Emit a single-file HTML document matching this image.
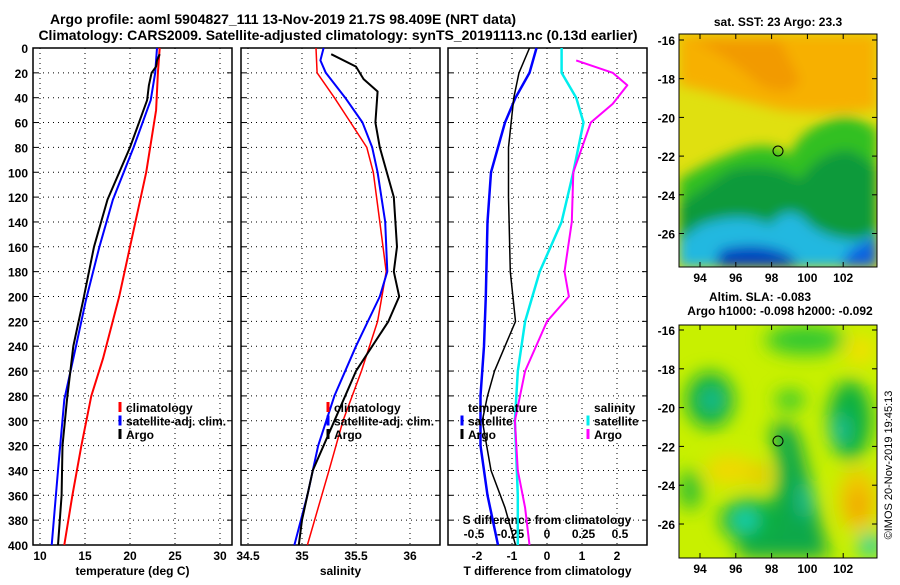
<!DOCTYPE html>
<html><head><meta charset="utf-8"><style>
body{margin:0;background:#fff;width:900px;height:580px;overflow:hidden}
svg text{font-family:"Liberation Sans",sans-serif;font-weight:bold;fill:#000}
</style></head><body>
<svg id="c" width="900" height="580" xmlns="http://www.w3.org/2000/svg">
<defs>
<filter id="bl" x="-20%" y="-20%" width="140%" height="140%"><feGaussianBlur stdDeviation="6"/></filter>
<filter id="bl2" x="-20%" y="-20%" width="140%" height="140%"><feGaussianBlur stdDeviation="9"/></filter>
<clipPath id="m1"><rect x="679" y="34" width="198" height="233"/></clipPath>
<clipPath id="m2"><rect x="679" y="325" width="198" height="233"/></clipPath>
</defs>
<text x="283" y="24" font-size="14" text-anchor="middle">Argo profile: aoml 5904827_111 13-Nov-2019 21.7S 98.409E (NRT data)</text>
<text x="338" y="40" font-size="14" text-anchor="middle">Climatology: CARS2009. Satellite-adjusted climatology: synTS_20191113.nc (0.13d earlier)</text>
<g id="plots"></g>
<!-- SST map -->
<g clip-path="url(#m1)">
<rect x="679" y="34" width="198" height="233" fill="#e0e010"/>
<g filter="url(#bl)">
<path d="M679 34 H877 V110 Q820 115 780 110 Q740 100 700 90 L679 85Z" fill="#f7b000"/>
<path d="M690 40 Q720 50 760 85 Q790 100 800 80 L780 40Z" fill="#f29a00"/>
<path d="M679 180 Q700 165 740 150 Q770 140 790 155 Q800 130 830 120 Q850 110 877 130 V267 H679Z" fill="#30c020"/>
<path d="M679 205 Q700 190 730 170 Q770 160 800 180 Q820 150 850 150 Q870 160 877 170 V267 H679Z" fill="#119a3a"/>
<path d="M700 225 Q740 210 770 225 Q790 200 810 225 Q830 240 860 240 L877 232 V267 H679 V240Z" fill="#20b8e0"/>
<path d="M720 250 Q760 240 790 255 L800 267 H715Z" fill="#0040c0"/>
<path d="M850 250 Q870 240 877 235 V267 H840Z" fill="#1060e0"/>
</g>
</g>
<rect x="679" y="34" width="198" height="233" fill="none" stroke="#000"/>
<circle cx="778" cy="151" r="5" fill="none" stroke="#000"/>
<text x="778" y="26" font-size="12" text-anchor="middle">sat. SST: 23 Argo: 23.3</text>
<!-- SLA map -->
<g clip-path="url(#m2)">
<rect x="679" y="325" width="198" height="233" fill="#c8f000"/>
<g filter="url(#bl2)">
<ellipse cx="710" cy="400" rx="24" ry="28" fill="#10b040"/>
<ellipse cx="712" cy="400" rx="10" ry="10" fill="#20c0a0"/>
<ellipse cx="850" cy="420" rx="22" ry="40" fill="#10b040"/>
<ellipse cx="840" cy="430" rx="8" ry="15" fill="#20c0a0"/>
<path d="M770 430 Q790 410 800 440 Q810 480 820 520 L830 558 H740 Q730 520 760 510 Q790 500 770 430Z" fill="#10a848"/>
<ellipse cx="750" cy="520" rx="30" ry="22" fill="#10b040"/>
<ellipse cx="745" cy="520" rx="12" ry="10" fill="#20d8c0"/>
<ellipse cx="806" cy="500" rx="6" ry="18" fill="#20c0a0"/>
<ellipse cx="805" cy="340" rx="40" ry="15" fill="#30c830"/>
<ellipse cx="790" cy="400" rx="15" ry="10" fill="#30c830"/>
<ellipse cx="860" cy="350" rx="15" ry="15" fill="#f0e000"/>
<ellipse cx="730" cy="470" rx="25" ry="15" fill="#f0d800"/>
<ellipse cx="760" cy="475" rx="10" ry="10" fill="#f0c000"/>
<ellipse cx="858" cy="500" rx="20" ry="32" fill="#f0c800"/>
<ellipse cx="858" cy="505" rx="8" ry="16" fill="#f0a000"/>
<ellipse cx="690" cy="490" rx="12" ry="20" fill="#30c030"/>
<ellipse cx="870" cy="545" rx="12" ry="12" fill="#20d0b0"/>
</g>
</g>
<rect x="679" y="325" width="198" height="233" fill="none" stroke="#000"/>
<circle cx="778" cy="441" r="5" fill="none" stroke="#000"/>
<text x="760" y="301" font-size="12" text-anchor="middle">Altim. SLA: -0.083</text>
<text x="780" y="315" font-size="12" text-anchor="middle">Argo h1000: -0.098 h2000: -0.092</text>
<text transform="translate(892,465) rotate(-90)" font-size="11" font-weight="normal" text-anchor="middle" style="font-weight:normal">©IMOS 20-Nov-2019 19:45:13</text>
<g id="maps"></g>
</svg>
<script>
// ---- data ----
const depthTicks=[0,20,40,60,80,100,120,140,160,180,200,220,240,260,280,300,320,340,360,380,400];
const tClimD=[0,20,50,100,150,200,250,280,320,360,400];
const tClimV=[23.3,23.1,22.9,21.8,20.3,18.8,17.0,15.7,14.6,13.6,12.7];
const tSatD=[0,20,42,80,122,160,203,240,283,340,400];
const tSatV=[23.0,22.8,22.3,20.4,18.1,16.6,15.1,14.0,12.7,12.0,11.3];
const tArgoD=[5,10,15,20,30,42,80,122,160,203,240,283,320,360,400];
const tArgoV=[23.3,23.0,22.9,22.4,22.1,21.9,20.0,17.5,16.0,14.8,13.7,13.0,12.5,12.4,12.0];
const sClimD=[0,20,40,60,80,100,140,180,220,260,300,340,400];
const sClimV=[35.13,35.14,35.3,35.45,35.6,35.66,35.72,35.78,35.7,35.55,35.38,35.25,35.05];
const sSatD=[0,10,20,40,60,80,100,140,180,200,240,280,320,360,400];
const sSatV=[35.2,35.17,35.22,35.4,35.56,35.65,35.7,35.77,35.79,35.72,35.5,35.3,35.15,35.05,34.93];
const sArgoD=[5,15,25,35,60,80,120,160,180,200,220,260,300,340,380,400];
const sArgoV=[35.27,35.5,35.57,35.7,35.68,35.72,35.85,35.88,35.85,35.9,35.8,35.5,35.3,35.1,35.0,34.97];
const dtSatD=[0,20,40,60,80,100,140,200,240,280,320,360,400];
const dtSatV=[-0.3,-0.5,-0.9,-1.2,-1.4,-1.6,-1.7,-1.75,-1.8,-1.9,-1.9,-1.7,-1.4];
const dtArgoD=[0,20,40,80,120,180,220,240,260,280,300,340,370,400];
const dtArgoV=[-0.5,-0.8,-0.95,-1.1,-1.1,-1.05,-0.9,-1.2,-1.5,-1.7,-1.85,-1.6,-1.2,-0.9];
const dsSatD=[0,20,40,60,100,140,180,220,260,300,360,400];
const dsSatV=[0.1,0.1,0.2,0.25,0.18,0.1,-0.05,-0.15,-0.2,-0.22,-0.2,-0.2];
const dsArgoD=[10,20,30,45,60,100,140,180,200,220,260,300,340,370,400];
const dsArgoV=[0.2,0.45,0.55,0.45,0.3,0.18,0.17,0.12,0.15,0.0,-0.15,-0.22,-0.2,-0.15,-0.12];
const tTicks=[10,15,20,25,30], sTicks=[34.5,35,35.5,36], dtTicks=[-2,-1,0,1,2], dsTicks=[-0.5,-0.25,0,0.25,0.5];
const dsTickLabels=["-0.5","-0.25","0","0.25","0.5"];
const latTicks=[-16,-18,-20,-22,-24,-26], lonTicks=[94,96,98,100,102];
// ---- axes ----
const NS="http://www.w3.org/2000/svg";
const Y0=48,Y1=545;
const y=d=>Y0+d*(Y1-Y0)/400;
const xT=v=>40+(v-10)*9, xS=v=>302+(v-35)*108, xDT=v=>547+v*35, xDS=v=>547+v*146;
const g=document.getElementById('plots');
function el(t,a,p){const e=document.createElementNS(NS,t);for(const k in a)e.setAttribute(k,a[k]);(p||g).appendChild(e);return e;}
function txt(s,x,yy,anc,sz){const e=el('text',{x:x,y:yy,'text-anchor':anc||'middle','font-size':sz||12});e.textContent=s;return e;}
const panels=[{x0:33,x1:232,ticks:tTicks,f:xT,lab:tTicks.map(String),title:"temperature (deg C)",name:"temperature-panel"},
{x0:241,x1:440,ticks:sTicks,f:xS,lab:sTicks.map(String),title:"salinity",name:"salinity-panel"},
{x0:448,x1:647,ticks:dtTicks,f:xDT,lab:dtTicks.map(String),title:"T difference from climatology",name:"difference-panel"}];
panels.forEach((p,i)=>{
  const r=el('rect',{x:p.x0,y:Y0,width:p.x1-p.x0,height:Y1-Y0,fill:'none',stroke:'#000','stroke-width':1.5});
  
  
  depthTicks.forEach(d=>{if(d>0&&d<400){el('line',{x1:p.x0,x2:p.x1,y1:y(d),y2:y(d),stroke:'#000','stroke-dasharray':'1,4'});
    el('line',{x1:p.x0,x2:p.x0+5,y1:y(d),y2:y(d),stroke:'#000'});el('line',{x1:p.x1-5,x2:p.x1,y1:y(d),y2:y(d),stroke:'#000'});}});
  p.ticks.forEach((t,j)=>{const X=p.f(t);
    el('line',{x1:X,x2:X,y1:Y0,y2:Y1,stroke:'#000','stroke-dasharray':'1,4'});
    const tl=txt(p.lab[j],X,560,'middle',12);
    
    });
  const at=txt(p.title,(p.x0+p.x1)/2,575,'middle',12);
  
  
});
depthTicks.forEach(d=>{const t=txt(String(d),28,y(d)+5,'end',12);
  
  });
dsTicks.forEach((t,j)=>{const e=txt(dsTickLabels[j],xDS(t),538,'middle',12);
  
  });
const st=txt("S difference from climatology",547,524,'middle',12);


function line(D,V,f,col,w,name){
  const pts=D.map((d,i)=>f(V[i]).toFixed(1)+','+y(d).toFixed(1)).join(' ');
  const e=el('polyline',{points:pts,fill:'none',stroke:col,'stroke-width':w,'stroke-linejoin':'round'});
  
  }
line(tClimD,tClimV,xT,'#f00',2,'temp-climatology-line');
line(tSatD,tSatV,xT,'#00f',2,'temp-satellite-line');
line(tArgoD,tArgoV,xT,'#000',2,'temp-argo-line');
line(sClimD,sClimV,xS,'#f00',1.5,'sal-climatology-line');
line(sSatD,sSatV,xS,'#00f',2,'sal-satellite-line');
line(sArgoD,sArgoV,xS,'#000',2,'sal-argo-line');
line(dtSatD,dtSatV,xDT,'#00f',2.5,'tdiff-satellite-line');
line(dtArgoD,dtArgoV,xDT,'#000',1.5,'tdiff-argo-line');
line(dsSatD,dsSatV,xDS,'#0ee',2.5,'sdiff-satellite-line');
line(dsArgoD,dsArgoV,xDS,'#f0f',2,'sdiff-argo-line');
function leg(x,yy,col,s){if(col){el('line',{x1:x,x2:x,y1:yy-10,y2:yy,stroke:col,'stroke-width':3});}
  const t=txt(s,x+6,yy,'start',12);
  
  }
[[241-122,'climatology','#f00'],[0,'satellite-adj. clim.','#00f'],[0,'Argo','#000']].forEach((a,i)=>{
  leg(120,412+i*13.5,a[2],a[1]); leg(328,412+i*13.5,a[2],a[1]);});
leg(462,412,null,'temperature');leg(462,425.5,'#00f','satellite');leg(462,439,'#000','Argo');
leg(588,412,null,'salinity');leg(588,425.5,'#0ee','satellite');leg(588,439,'#f0f','Argo');
// map ticks
const mg=document.getElementById('maps');
[[34,267,40,19.35],[325,558,330,19.4]].forEach(m=>{
  latTicks.forEach(l=>{const Y=m[2]+(-16-l)*m[3];
    el('line',{x1:679,x2:684,y1:Y,y2:Y,stroke:'#000'},mg);el('line',{x1:872,x2:877,y1:Y,y2:Y,stroke:'#000'},mg);
    const t=el('text',{x:675,y:Y+5,'text-anchor':'end','font-size':12},mg);t.textContent=String(l);
    
    });
  lonTicks.forEach(l=>{const X=700+(l-94)*17.9;
    el('line',{x1:X,x2:X,y1:m[1]-5,y2:m[1],stroke:'#000'},mg);el('line',{x1:X,x2:X,y1:m[0],y2:m[0]+5,stroke:'#000'},mg);
    const t=el('text',{x:X,y:m[1]+15,'text-anchor':'middle','font-size':12},mg);t.textContent=String(l);
    
    });
});
</script>
</body></html>
